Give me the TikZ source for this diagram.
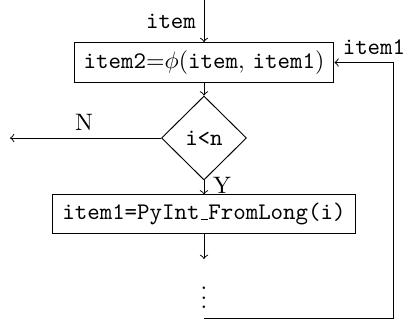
\documentclass[tikz,border=0pt]{standalone}
\usetikzlibrary{shapes.geometric}
% a low, short underscore rule as in the classic typewriter text
\newcommand{\lowbar}{\kern.06em\vbox{\hrule width .3em}}
\begin{document}
\begin{tikzpicture}[x=0.4202pt,y=-0.4202pt,
  procbox/.style={draw, rectangle, inner sep=2pt, font=\ttfamily},
  decision/.style={draw, diamond, inner sep=0pt, minimum width=35.7pt, minimum height=35.3pt, font=\ttfamily},
  flow/.style={->},
  lbl/.style={inner sep=0pt}]
\useasboundingbox (0,0) rectangle (404,323);

% entry point and nodes of the loop
\coordinate (in) at (204,0);
\node[procbox, minimum width=109.2pt, minimum height=16.8pt] (calc) at (204,62.5)
  {item2{$=$}$\phi(\texttt{item},\,\texttt{item1})$};
\node[decision] (test) at (204,138) {i<n};
\node[procbox, minimum width=127pt, minimum height=16pt] (conv) at (204,214)
  {item1=PyInt\lowbar FromLong(i)};
\coordinate (exit) at (10,138);
\coordinate (cont) at (204,259);
\node[lbl] (dots) at (204,291) {$\vdots$};
\coordinate (back) at (204,318);
\coordinate (corner) at (393,318);

% labels
\node[lbl, font=\ttfamily] (initem) at (171,21) {item};
\node[lbl, font=\ttfamily] (backitem) at (374,47) {item1};
\node[lbl] (no) at (84,122) {N};
\node[lbl] (yes) at (222,185) {Y};

% connectors
\draw[flow] (in) -- (calc.north);
\draw[flow] (calc.south) -- (test.north);
\draw[flow] (test.west) -- (exit);
\draw[flow] (test.south) -- (conv.north);
\draw[flow] (conv.south) -- (cont);
\draw[flow] (back) -- (corner) |- (calc.east);
\end{tikzpicture}
\end{document}
